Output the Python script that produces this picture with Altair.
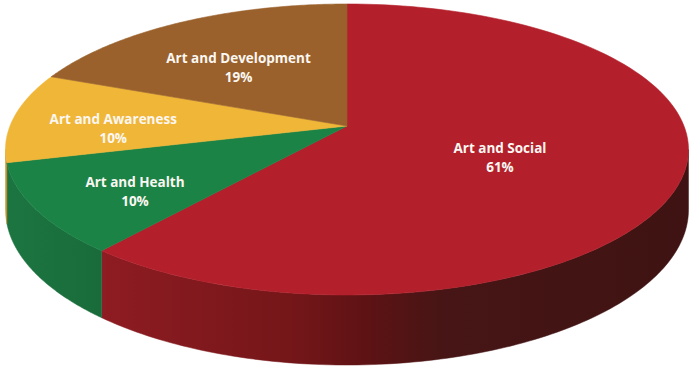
import altair as alt
import pandas as pd

# ---- data ----
categories = ["Art and Social", "Art and Health", "Art and Awareness", "Art and Development"]
values = [61, 10, 10, 19]

# ---- style ----
top_colors = ["#b3202b", "#1b8346", "#f0b638", "#9a612c"]
side_gradients = {
    "Art and Social": [("#8e1c22", 0.0), ("#741619", 0.33), ("#5e1214", 0.45),
                       ("#471515", 0.58), ("#3f1313", 1.0)],
    "Art and Health": [("#1c7541", 0.0), ("#196c3a", 1.0)],
    "Art and Awareness": [("#c9962c", 0.0), ("#b88827", 1.0)],
    "Art and Development": [("#7c4e24", 0.0), ("#6e441f", 1.0)],
}
label_radius = {"Art and Social": 0.47, "Art and Health": 0.70,
                "Art and Awareness": 0.70, "Art and Development": 0.62}

# perspective projection of the tilted disk (unit radius)
K = 0.1615       # perspective strength
B = 0.4205       # vertical squash
DEPTH = 0.1742   # thickness of the pie
N = 120          # points per arc

df = pd.DataFrame({"category": categories, "value": values,
                   "idx": list(range(len(categories)))})

xs = alt.Scale(domain=[-1.02967, 1.04748], nice=False, zero=False)
ys = alt.Scale(domain=[-0.74184, 0.37389], nice=False, zero=False)
color_scale = alt.Scale(domain=categories, range=top_colors)


def with_angles(ch):
    return (ch.transform_window(cum="sum(value)", sort=[alt.SortField("idx")], frame=[None, 0])
              .transform_joinaggregate(total="sum(value)")
              .transform_calculate(a0="2*PI*(datum.cum-datum.value)/datum.total")
              .transform_calculate(a1="2*PI*datum.cum/datum.total"))


def project(ch):
    return (ch.transform_calculate(w=f"1 + {K} * datum.v")
              .transform_calculate(X="datum.u / datum.w")
              .transform_calculate(Y=f"{B} * datum.v / datum.w - datum.bottom * {DEPTH} / datum.w"))


# ---- sides (visible front wall) ----
layers = []
for cat in categories:
    stops = [{"color": c, "offset": o} for c, o in side_gradients[cat]]
    grad = {"gradient": "linear", "x1": 0, "x2": 1, "y1": 0, "y2": 0, "stops": stops}
    side = with_angles(alt.Chart(df))
    side = (side.transform_calculate(c0=f"max(datum.a0, acos(-{K}))")
                .transform_calculate(c1=f"min(datum.a1, 2*PI - acos(-{K}))")
                .transform_filter(alt.datum.category == cat)
                .transform_filter("datum.c0 < datum.c1")
                .transform_calculate(steps=f"sequence(0, {2 * N + 2})")
                .transform_flatten(["steps"], as_=["s"])
                .transform_calculate(bottom=f"datum.s > {N} ? 1 : 0")
                .transform_calculate(
                    t=f"datum.s <= {N} ? datum.c0 + (datum.c1 - datum.c0) * datum.s / {N} "
                      f": datum.c1 - (datum.c1 - datum.c0) * (datum.s - {N} - 1) / {N}")
                .transform_calculate(u="sin(datum.t)")
                .transform_calculate(v="cos(datum.t)"))
    side = project(side).mark_line(interpolate="linear-closed", fill=grad,
                                   stroke=grad, strokeWidth=0.5).encode(
        x=alt.X("X:Q", scale=xs, axis=None),
        y=alt.Y("Y:Q", scale=ys, axis=None),
        detail="category:N",
        order="s:Q",
    )
    layers.append(side)

# ---- top face ----
top = with_angles(alt.Chart(df))
top = (top.transform_calculate(steps=f"sequence(-1, {N + 1})")
          .transform_flatten(["steps"], as_=["s"])
          .transform_calculate(r="datum.s < 0 ? 0 : 1")
          .transform_calculate(t=f"datum.a0 + (datum.a1 - datum.a0) * max(datum.s, 0) / {N}")
          .transform_calculate(u="datum.r * sin(datum.t)")
          .transform_calculate(v="datum.r * cos(datum.t)")
          .transform_calculate(bottom="0"))
top = project(top).mark_line(interpolate="linear-closed", strokeWidth=0.6).encode(
    x=alt.X("X:Q", scale=xs, axis=None),
    y=alt.Y("Y:Q", scale=ys, axis=None),
    detail="category:N",
    order="s:Q",
    fill=alt.Fill("category:N", scale=color_scale, legend=None),
    stroke=alt.Stroke("category:N", scale=color_scale, legend=None),
)
layers.append(top)

# ---- labels ----
lr_array = "[" + ",".join(str(label_radius[c]) for c in categories) + "]"
lab = with_angles(alt.Chart(df))
lab = (lab.transform_calculate(m="(datum.a0 + datum.a1) / 2")
          .transform_calculate(lr=f"{lr_array}[datum.idx]")
          .transform_calculate(u="datum.lr * sin(datum.m)")
          .transform_calculate(v="datum.lr * cos(datum.m)")
          .transform_calculate(bottom="0")
          .transform_calculate(label="datum.category + '\\n' + format(datum.value / datum.total, '.0%')"))
lab = project(lab).mark_text(font="Open Sans", fontSize=13.5, fontWeight="bold", color="#fbf7f2",
                              lineBreak="\n", lineHeight=19, baseline="middle", align="center").encode(
    x=alt.X("X:Q", scale=xs, axis=None),
    y=alt.Y("Y:Q", scale=ys, axis=None),
    text="label:N",
)
layers.append(lab)

chart = alt.layer(*layers).properties(
    width=700, height=376,
    autosize=alt.AutoSizeParams(type="none"),
    padding=0,
).configure_view(stroke=None)

chart.save("out.html", embed_options={"renderer": "svg", "actions": False})
